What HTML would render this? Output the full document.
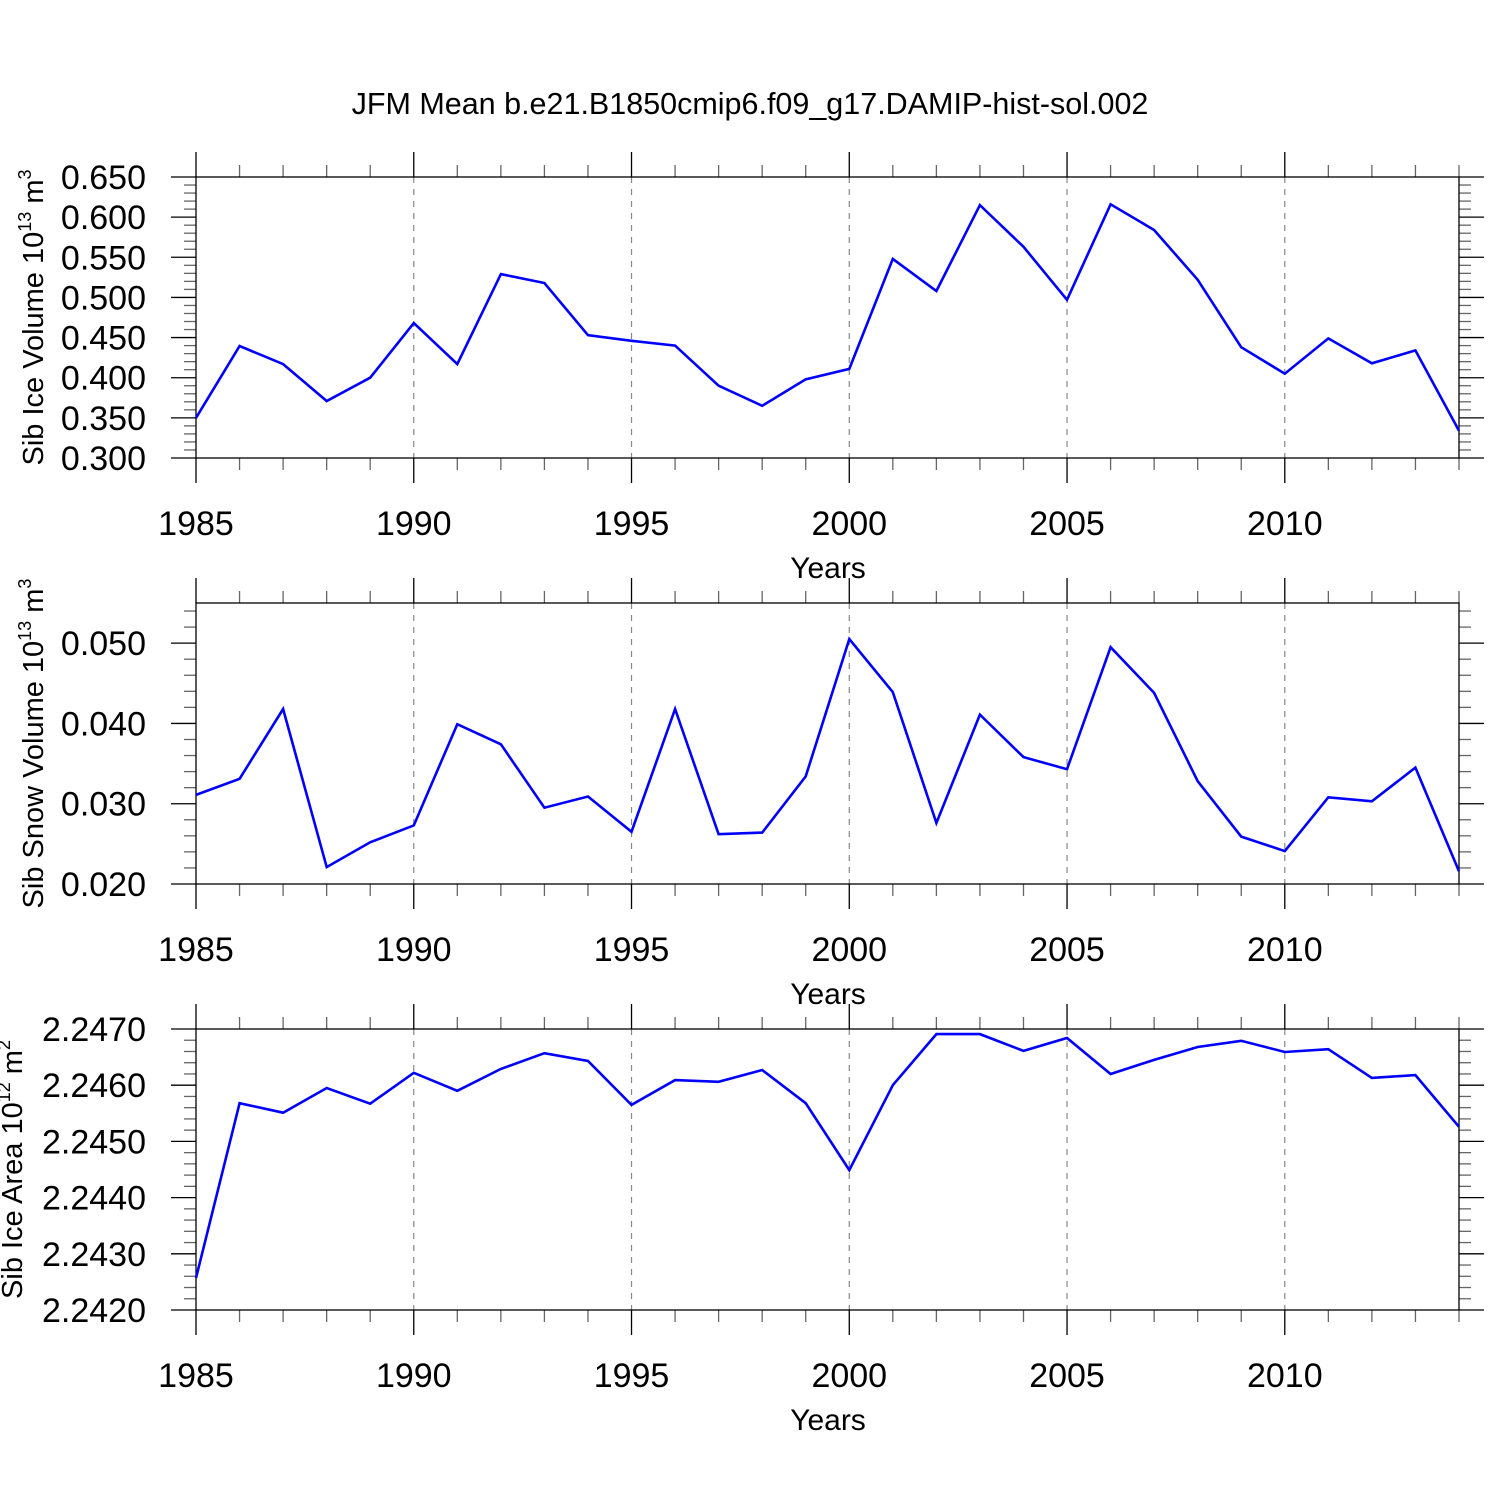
<!DOCTYPE html>
<html><head><meta charset="utf-8"><style>
html,body{margin:0;padding:0;background:#fff}
svg{display:block;font-family:"Liberation Sans",sans-serif}
</style></head><body>
<svg id="chart" width="1500" height="1500" viewBox="0 0 1500 1500" xmlns="http://www.w3.org/2000/svg">
<text x="750" y="114" font-size="30.5" text-anchor="middle">JFM Mean b.e21.B1850cmip6.f09_g17.DAMIP-hist-sol.002</text>
</svg>
<script>
const years = [1985,1986,1987,1988,1989,1990,1991,1992,1993,1994,1995,1996,1997,1998,1999,2000,2001,2002,2003,2004,2005,2006,2007,2008,2009,2010,2011,2012,2013,2014];
const iceVolume = [0.350,0.4395,0.417,0.371,0.400,0.468,0.417,0.529,0.518,0.453,0.446,0.440,0.390,0.365,0.398,0.411,0.548,0.508,0.615,0.563,0.497,0.616,0.584,0.522,0.438,0.405,0.449,0.418,0.434,0.334];
const snowVolume = [0.0311,0.0331,0.0418,0.0221,0.0252,0.0273,0.0399,0.0374,0.0295,0.0309,0.0265,0.0418,0.0262,0.0264,0.0334,0.0505,0.0439,0.0276,0.0411,0.0358,0.0343,0.0495,0.0438,0.0328,0.0259,0.0241,0.0308,0.0303,0.0345,0.0216];
const iceArea = [2.24257,2.24568,2.24551,2.24595,2.24567,2.24622,2.24590,2.24629,2.24657,2.24643,2.24565,2.24609,2.24606,2.24627,2.24568,2.24449,2.24600,2.24691,2.24691,2.24661,2.24684,2.24620,2.24645,2.24668,2.24679,2.24659,2.24664,2.24613,2.24618,2.24526];
const xTickLabels = ["1985","1990","1995","2000","2005","2010"];
const yTicks1 = ["0.300","0.350","0.400","0.450","0.500","0.550","0.600","0.650"];
const yTicks2 = ["0.020","0.030","0.040","0.050"];
const yTicks3 = ["2.2420","2.2430","2.2440","2.2450","2.2460","2.2470"];

const NS="http://www.w3.org/2000/svg";
const svg=document.getElementById('chart');
const X0=196,X1=1459;
function xs(yr){return X0+(yr-1985)/(2014-1985)*(X1-X0);}
function mk(tag,attrs,parent){const e=document.createElementNS(NS,tag);for(const k in attrs)e.setAttribute(k,attrs[k]);(parent||svg).appendChild(e);return e;}

function panel(id,top,bot,ymin,ymax,minorStep,ticks,data,labelMain,labelExp,unitExp,labelX){
  const g=mk('g',{});
  
  
  const ys=v=>bot-(v-ymin)/(ymax-ymin)*(bot-top);
  for(let yr=1990;yr<=2010;yr+=5){
    const l=mk('line',{x1:xs(yr),x2:xs(yr),y1:top,y2:bot,stroke:'#888','stroke-width':1.2,'stroke-dasharray':'6,6'},g);
    
    
  }
  for(let yr=1985;yr<=2014;yr++){
    const maj=(yr%5===0);const L=maj?25:12;const x=xs(yr);
    mk('line',{x1:x,x2:x,y1:top,y2:top-L,stroke:maj?'#000':'#666','stroke-width':1.3},g);
    mk('line',{x1:x,x2:x,y1:bot,y2:bot+L,stroke:maj?'#000':'#666','stroke-width':1.3},g);
  }
  const nMin=Math.floor((ymax-ymin)/minorStep+1e-6);
  for(let i=0;i<=nMin;i++){
    const v=ymin+i*minorStep;const y=ys(v);
    const maj=ticks.some(t=>Math.abs(parseFloat(t)-v)<minorStep/10);
    const L=maj?25:12;
    mk('line',{x1:X0,x2:X0-L,y1:y,y2:y,stroke:maj?'#000':'#666','stroke-width':1.3},g);
    mk('line',{x1:X1,x2:X1+L,y1:y,y2:y,stroke:maj?'#000':'#666','stroke-width':1.3},g);
  }
  ticks.forEach(t=>{
    const tx=mk('text',{x:146,y:ys(parseFloat(t))+12,'font-size':34,'text-anchor':'end'},g);
    tx.textContent=t;
    
    
  });
  xTickLabels.forEach(t=>{
    const tx=mk('text',{x:xs(parseFloat(t)),y:bot+77,'font-size':34,'text-anchor':'middle'},g);
    tx.textContent=t;
    
    
  });
  const xt=mk('text',{x:828,y:bot+120,'font-size':30,'text-anchor':'middle'},g);
  xt.textContent='Years';
  
  
  const f=mk('rect',{x:X0,y:top,width:X1-X0,height:bot-top,fill:'none',stroke:'#000','stroke-width':1.3},g);
  
  
  const pts=data.map((v,i)=>xs(years[i]).toFixed(1)+','+ys(v).toFixed(1)).join(' ');
  const pl=mk('polyline',{points:pts,fill:'none',stroke:'#0000ff','stroke-width':2.6,'stroke-linejoin':'miter'},g);
  
  
  const cy=(top+bot)/2;
  const yl=mk('text',{x:0,y:0,'font-size':29,'text-anchor':'middle',transform:`translate(${labelX},${cy}) rotate(-90)`},g);
  
  
  const s1=mk('tspan',{},yl);s1.textContent=labelMain+' 10';
  const s2=mk('tspan',{dy:-12,'font-size':18},yl);s2.textContent=labelExp;
  const s3=mk('tspan',{dy:12},yl);s3.textContent=' m';
  const s4=mk('tspan',{dy:-12,'font-size':18},yl);s4.textContent=unitExp;
}
panel('ice-volume',177,458,0.300,0.650,0.010,yTicks1,iceVolume,'Sib Ice Volume','13','3',43);
panel('snow-volume',603,884,0.020,0.055,0.002,yTicks2,snowVolume,'Sib Snow Volume','13','3',43);
panel('ice-area',1029,1310,2.2420,2.2470,0.0002,yTicks3,iceArea,'Sib Ice Area','12','2',22);
</script>
</body></html>
